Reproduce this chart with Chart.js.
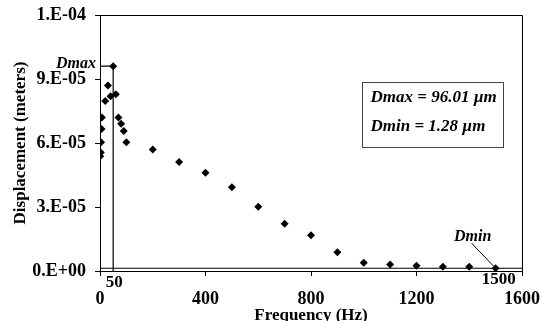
<!DOCTYPE html>
<html><head><meta charset="utf-8">
<script src="https://cdn.jsdelivr.net/npm/chart.js@4.4.0/dist/chart.umd.min.js"></script>
<style>html,body{margin:0;padding:0;background:#fff;}#wrap{width:542px;height:321px;}</style>
</head><body><div id="wrap"><canvas id="c" width="542" height="321"></canvas></div>
<script>
// ---- data ----
const frequencyHz = [1, 3, 4, 6, 7, 20, 30, 40, 50, 60, 70, 80, 90, 100,
  200, 300, 400, 500, 600, 700, 800, 900, 1000, 1100, 1200, 1300, 1400, 1500];
const displacementUm = [53.8, 55.6, 60.3, 66.6, 71.9, 79.7, 86.9, 81.9, 96.01, 82.8, 71.9, 69.0, 65.6, 60.3,
  57.0, 51.1, 46.1, 39.2, 30.1, 22.2, 16.7, 8.8, 3.9, 3.0, 2.5, 2.0, 2.0, 1.28];
const xTickValues = [0, 400, 800, 1200, 1600];
const yTickValues = [0, 3e-5, 6e-5, 9e-5, 1.2e-4];
const dmaxFreq = 50, dmaxUm = 96.01;
const dminFreq = 1500, dminUm = 1.28;
const xAxisTitle = 'Frequency (Hz)';
const yAxisTitle = 'Displacement (meters)';
const boxLines = ['Dmax = 96.01 µm', 'Dmin = 1.28 µm'];
const dmaxLabel = 'Dmax', dminLabel = 'Dmin';

// ---- derived ----
const UM = 1e-6;
const points = frequencyHz.map((f, i) => ({x: f, y: displacementUm[i] * UM}));
const xMax = xTickValues[xTickValues.length - 1];
const yMax = yTickValues[yTickValues.length - 1];
const dmaxLine = [{x: 0, y: dmaxUm * UM}, {x: dmaxFreq, y: dmaxUm * UM}, {x: dmaxFreq, y: 0}];
const dminLine = [{x: 0, y: dminUm * UM}, {x: xMax, y: dminUm * UM}];

function sciLabel(v) {
  if (v === 0) return '0.E+00';
  const s = Number(v).toExponential(0);
  const [m, e] = s.split('e');
  const n = parseInt(e, 10);
  const sign = n < 0 ? '-' : '+';
  return m + '.E' + sign + String(Math.abs(n)).padStart(2, '0');
}

const SERIF = '"Liberation Serif", "Times New Roman", serif';

const overlay = {
  id: 'overlay',
  afterDatasetsDraw(chart) {
    const {ctx, chartArea: a, scales: {x, y}} = chart;
    ctx.save();
    ctx.strokeStyle = '#000';
    ctx.lineWidth = 1;
    ctx.beginPath();
    ctx.moveTo(a.left, Math.round(a.top) + 0.5);
    ctx.lineTo(Math.round(a.right) + 0.5, Math.round(a.top) + 0.5);
    ctx.lineTo(Math.round(a.right) + 0.5, a.bottom);
    ctx.stroke();

    ctx.fillStyle = '#000';
    ctx.font = 'italic bold 16px ' + SERIF;
    ctx.textAlign = 'right';
    ctx.textBaseline = 'middle';
    ctx.fillText(dmaxLabel, a.left - 4, y.getPixelForValue(dmaxUm * UM) - 2);

    const px = x.getPixelForValue(dminFreq), py = y.getPixelForValue(dminUm * UM);
    ctx.textAlign = 'center';
    ctx.fillText(dminLabel, px - 23, py - 31);
    ctx.beginPath();
    ctx.moveTo(px - 24, py - 25);
    ctx.lineTo(px, py);
    ctx.stroke();

    ctx.font = 'bold 17px ' + SERIF;
    ctx.textAlign = 'center';
    ctx.fillText(String(dmaxFreq), x.getPixelForValue(dmaxFreq) + 1, a.bottom + 12);
    ctx.fillText(String(dminFreq), x.getPixelForValue(dminFreq) + 3, a.bottom + 9);

    const bx = 362.5, by = 82.5, bw = 141, bh = 65;
    ctx.fillStyle = '#fff';
    ctx.fillRect(bx, by, bw, bh);
    ctx.strokeStyle = '#444';
    ctx.strokeRect(bx, by, bw, bh);
    ctx.fillStyle = '#000';
    ctx.font = 'italic bold 17px ' + SERIF;
    ctx.textAlign = 'left';
    ctx.fillText(boxLines[0], bx + 8, by + 15);
    ctx.fillText(boxLines[1], bx + 8, by + 44);
    ctx.restore();
  }
};

new Chart(document.getElementById('c'), {
  type: 'scatter',
  data: {
    datasets: [
      {data: points, pointStyle: 'rectRot', pointRadius: 4, pointHoverRadius: 4,
       backgroundColor: '#000', borderColor: '#000', borderWidth: 0, showLine: false},
      {data: dmaxLine, showLine: true, borderColor: '#000', borderWidth: 1.2, pointRadius: 0, fill: false},
      {data: dminLine, showLine: true, borderColor: '#000', borderWidth: 1.2, pointRadius: 0, fill: false}
    ]
  },
  options: {
    responsive: false,
    animation: false,
    devicePixelRatio: 1,
    layout: {padding: {left: 0, top: 15, right: 20, bottom: 0}},
    plugins: {legend: {display: false}, tooltip: {enabled: false}},
    scales: {
      x: {
        type: 'linear', min: 0, max: xMax,
        afterBuildTicks: s => { s.ticks = xTickValues.map(v => ({value: v})); },
        afterFit: s => { s.height = 50; s.paddingLeft = 0; s.paddingRight = 0; },
        grid: {display: true, drawOnChartArea: false, drawTicks: true, tickLength: 5, color: '#000'},
        border: {display: true, color: '#000', width: 1},
        ticks: {color: '#000', font: {family: SERIF, size: 18, weight: 'bold'}, padding: 13,
                maxRotation: 0, autoSkip: false, callback: v => String(v)},
        title: {display: true, text: xAxisTitle, color: '#000',
                font: {family: SERIF, size: 17, weight: 'bold', lineHeight: 0.6}, padding: {top: 0, bottom: 0}}
      },
      y: {
        type: 'linear', min: 0, max: yMax,
        afterBuildTicks: s => { s.ticks = yTickValues.map(v => ({value: v})); },
        afterFit: s => { s.width = 100; s.paddingTop = 0; s.paddingBottom = 0; },
        grid: {display: true, drawOnChartArea: false, drawTicks: true, tickLength: 5, color: '#000'},
        border: {display: true, color: '#000', width: 1},
        ticks: {color: '#000', font: {family: SERIF, size: 18, weight: 'bold'}, padding: 9,
                callback: v => sciLabel(v)},
        title: {display: true, text: yAxisTitle, color: '#000',
                font: {family: SERIF, size: 17, weight: 'bold'}, padding: {top: 10, bottom: 0}}
      }
    }
  },
  plugins: [overlay]
});
</script>
</body></html>
